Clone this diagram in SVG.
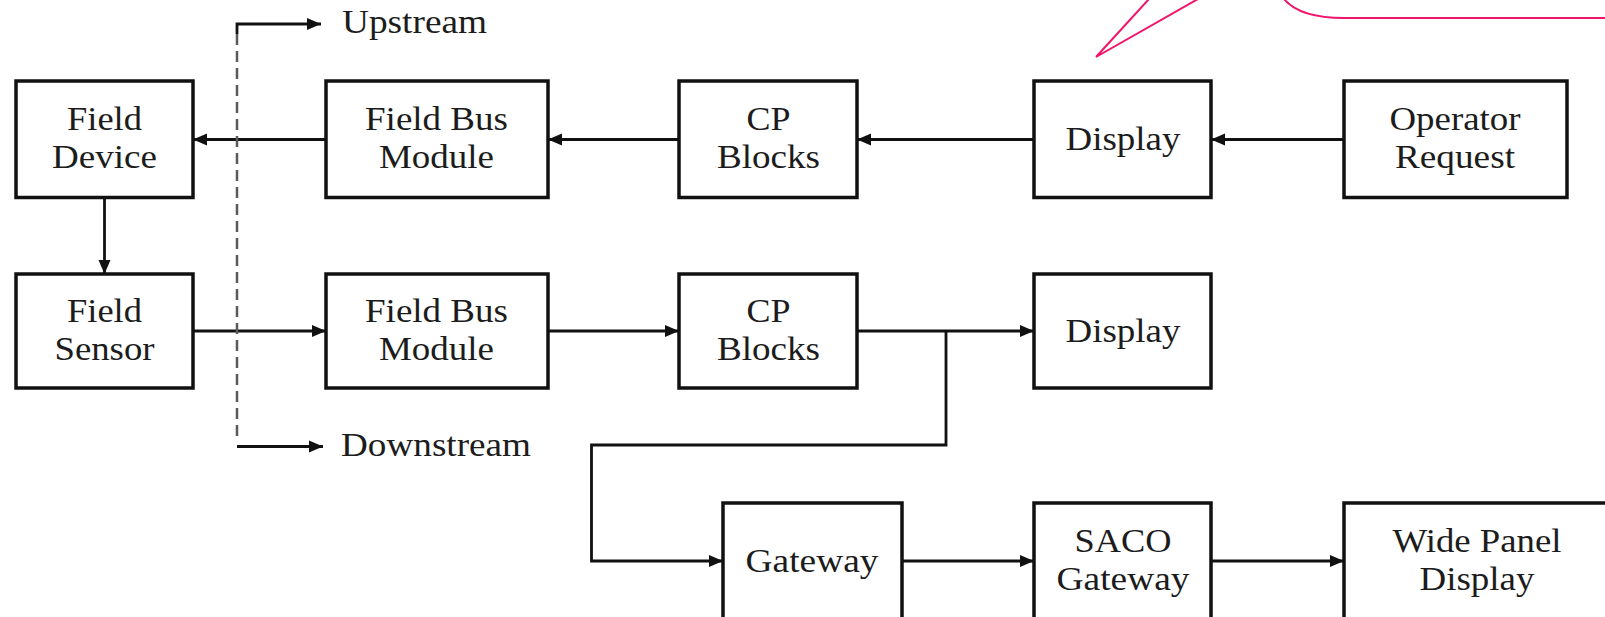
<svg xmlns="http://www.w3.org/2000/svg" width="1605" height="617" viewBox="0 0 1605 617">
  <style>
    .box { fill: #ffffff; stroke: #111111; stroke-width: 3.5; }
    .lbl { font-family: "Liberation Serif", "Times New Roman", serif; font-size: 33px; fill: #1c1c1c; text-anchor: middle; }
    .side { font-family: "Liberation Serif", "Times New Roman", serif; font-size: 33px; fill: #1c1c1c; }
    .wire { fill: none; stroke: #111111; stroke-width: 2.8; }
    .dash { fill: none; stroke: #5a5a5a; stroke-width: 2.5; stroke-dasharray: 11 6; }
    .callout { fill: none; stroke: #f0146a; stroke-width: 2; }
  </style>
  <defs>
    <marker id="arrow" markerUnits="userSpaceOnUse" markerWidth="15" markerHeight="13" refX="14" refY="6.5" orient="auto">
      <path d="M0,0.5 L14,6.5 L0,12.5 Z" fill="#111111"/>
    </marker>
  </defs>
  <rect width="1605" height="617" fill="#ffffff"/>

  <!-- callout outline -->
  <g id="callout">
    <path class="callout" d="M1149,-1 L1096,57 L1198,-1"/>
    <path class="callout" d="M1284,-1 C1294,11 1312,18 1344,18 L1607,18"/>
  </g>

  <!-- connectors -->
  <g id="connectors">
    <!-- upper row, right to left -->
    <path class="wire" d="M1344,139.5 H1211" marker-end="url(#arrow)"/>
    <path class="wire" d="M1034,139.5 H857" marker-end="url(#arrow)"/>
    <path class="wire" d="M679,139.5 H548" marker-end="url(#arrow)"/>
    <path class="wire" d="M326,139.5 H193" marker-end="url(#arrow)"/>
    <!-- device to sensor -->
    <path class="wire" d="M104.5,198 V274" marker-end="url(#arrow)"/>
    <!-- lower row, left to right -->
    <path class="wire" d="M193,331 H326" marker-end="url(#arrow)"/>
    <path class="wire" d="M548,331 H679" marker-end="url(#arrow)"/>
    <path class="wire" d="M857,331 H1034" marker-end="url(#arrow)"/>
    <path class="wire" d="M946,331 V445 H591.5 V561 H723" marker-end="url(#arrow)"/>
    <path class="wire" d="M902,561 H1034" marker-end="url(#arrow)"/>
    <path class="wire" d="M1211,561 H1344" marker-end="url(#arrow)"/>
    <!-- upstream / downstream legend -->
    <path class="dash" d="M237,34 V436"/>
    <path class="wire" d="M237,34 V24 H321" marker-end="url(#arrow)"/>
    <path class="wire" d="M237,446.5 H323" marker-end="url(#arrow)"/>
  </g>

  <g id="legend-upstream">
    <text class="side" x="342" y="33" textLength="145" lengthAdjust="spacingAndGlyphs">Upstream</text>
  </g>
  <g id="legend-downstream">
    <text class="side" x="341" y="456" textLength="190" lengthAdjust="spacingAndGlyphs">Downstream</text>
  </g>

  <!-- upper row -->
  <g id="field-device">
    <rect class="box" x="16" y="81" width="177" height="116.5"/>
    <text class="lbl" x="104.5" y="130" textLength="75" lengthAdjust="spacingAndGlyphs">Field</text>
    <text class="lbl" x="104.5" y="168" textLength="105" lengthAdjust="spacingAndGlyphs">Device</text>
  </g>
  <g id="field-bus-module-1">
    <rect class="box" x="326" y="81" width="222" height="116.5"/>
    <text class="lbl" x="436.5" y="130" textLength="143" lengthAdjust="spacingAndGlyphs">Field Bus</text>
    <text class="lbl" x="436.5" y="168" textLength="115" lengthAdjust="spacingAndGlyphs">Module</text>
  </g>
  <g id="cp-blocks-1">
    <rect class="box" x="679" y="81" width="178" height="116.5"/>
    <text class="lbl" x="768.5" y="130" textLength="44" lengthAdjust="spacingAndGlyphs">CP</text>
    <text class="lbl" x="768.5" y="168" textLength="103" lengthAdjust="spacingAndGlyphs">Blocks</text>
  </g>
  <g id="display-1">
    <rect class="box" x="1034" y="81" width="177" height="116.5"/>
    <text class="lbl" x="1123" y="150" textLength="115" lengthAdjust="spacingAndGlyphs">Display</text>
  </g>
  <g id="operator-request">
    <rect class="box" x="1344" y="81" width="223" height="116.5"/>
    <text class="lbl" x="1455" y="130" textLength="131" lengthAdjust="spacingAndGlyphs">Operator</text>
    <text class="lbl" x="1455" y="168" textLength="120" lengthAdjust="spacingAndGlyphs">Request</text>
  </g>

  <!-- lower row -->
  <g id="field-sensor">
    <rect class="box" x="16" y="274" width="177" height="114"/>
    <text class="lbl" x="104.5" y="322" textLength="75" lengthAdjust="spacingAndGlyphs">Field</text>
    <text class="lbl" x="104.5" y="360" textLength="100" lengthAdjust="spacingAndGlyphs">Sensor</text>
  </g>
  <g id="field-bus-module-2">
    <rect class="box" x="326" y="274" width="222" height="114"/>
    <text class="lbl" x="436.5" y="322" textLength="143" lengthAdjust="spacingAndGlyphs">Field Bus</text>
    <text class="lbl" x="436.5" y="360" textLength="115" lengthAdjust="spacingAndGlyphs">Module</text>
  </g>
  <g id="cp-blocks-2">
    <rect class="box" x="679" y="274" width="178" height="114"/>
    <text class="lbl" x="768.5" y="322" textLength="44" lengthAdjust="spacingAndGlyphs">CP</text>
    <text class="lbl" x="768.5" y="360" textLength="103" lengthAdjust="spacingAndGlyphs">Blocks</text>
  </g>
  <g id="display-2">
    <rect class="box" x="1034" y="274" width="177" height="114"/>
    <text class="lbl" x="1123" y="342" textLength="115" lengthAdjust="spacingAndGlyphs">Display</text>
  </g>

  <!-- gateway chain -->
  <g id="gateway">
    <rect class="box" x="723" y="503" width="179" height="118"/>
    <text class="lbl" x="812" y="572" textLength="133" lengthAdjust="spacingAndGlyphs">Gateway</text>
  </g>
  <g id="saco-gateway">
    <rect class="box" x="1034" y="503" width="177" height="118"/>
    <text class="lbl" x="1123" y="552" textLength="97" lengthAdjust="spacingAndGlyphs">SACO</text>
    <text class="lbl" x="1123" y="590" textLength="133" lengthAdjust="spacingAndGlyphs">Gateway</text>
  </g>
  <g id="wide-panel-display">
    <rect class="box" x="1344" y="503" width="270" height="118"/>
    <text class="lbl" x="1477" y="552" textLength="169" lengthAdjust="spacingAndGlyphs">Wide Panel</text>
    <text class="lbl" x="1477" y="590" textLength="115" lengthAdjust="spacingAndGlyphs">Display</text>
  </g>
</svg>
